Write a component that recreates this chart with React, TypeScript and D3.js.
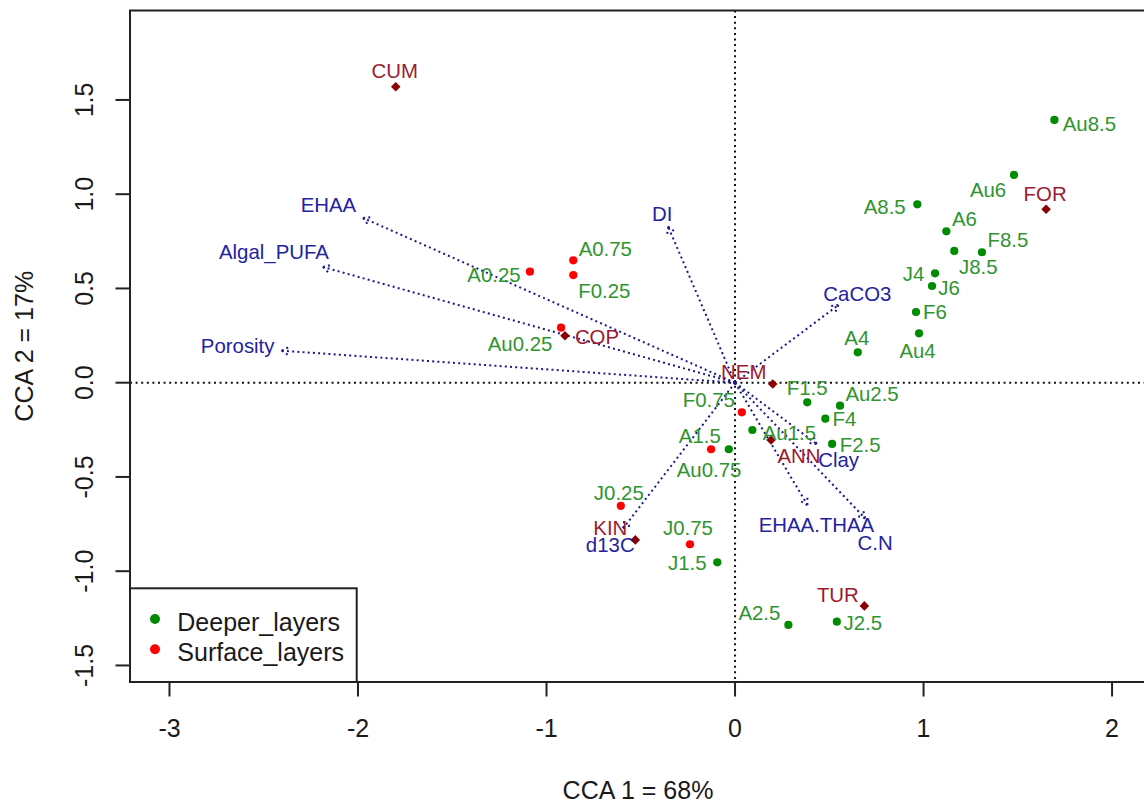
import React from "react";
import * as d3 from "d3";

// ---- CCA scores -------------------------------------------------------------
const speciesNames = ["CUM", "FOR", "COP", "NEM", "ANN", "KIN", "TUR"];
const speciesCCA1 = [-1.8, 1.65, -0.902, 0.2, 0.191, -0.529, 0.686];
const speciesCCA2 = [1.57, 0.92, 0.249, -0.007, -0.304, -0.834, -1.184];

const deeperSites = [
  "Au8.5", "Au6", "A8.5", "A6", "J8.5", "F8.5", "J4", "J6", "F6", "Au4",
  "A4", "F1.5", "Au2.5", "F4", "F2.5", "Au1.5", "A1.5", "J1.5", "A2.5", "J2.5",
];
const deeperCCA1 = [
  1.694, 1.48, 0.967, 1.121, 1.163, 1.31, 1.061, 1.045, 0.96, 0.976,
  0.651, 0.383, 0.557, 0.479, 0.515, 0.092, -0.033, -0.094, 0.283, 0.54,
];
const deeperCCA2 = [
  1.394, 1.102, 0.946, 0.803, 0.699, 0.692, 0.58, 0.513, 0.375, 0.262,
  0.161, -0.104, -0.122, -0.191, -0.325, -0.251, -0.353, -0.953, -1.285, -1.268,
];

const surfaceSites = ["A0.25", "A0.75", "F0.25", "Au0.25", "F0.75", "Au0.75", "J0.25", "J0.75"];
const surfaceCCA1 = [-1.088, -0.858, -0.858, -0.923, 0.036, -0.127, -0.606, -0.239];
const surfaceCCA2 = [0.589, 0.649, 0.571, 0.292, -0.157, -0.353, -0.653, -0.857];

const envVars = ["EHAA", "Algal_PUFA", "Porosity", "DI", "CaCO3", "Clay", "EHAA.THAA", "C.N", "d13C"];
const envCCA1 = [-1.973, -2.186, -2.405, -0.355, 0.548, 0.433, 0.384, 0.69, -0.593];
const envCCA2 = [0.874, 0.614, 0.17, 0.828, 0.412, -0.325, -0.649, -0.719, -0.772];

const xTicks = [-3, -2, -1, 0, 1, 2];
const xTickLabels = ["-3", "-2", "-1", "0", "1", "2"];
const yTicks = [-1.5, -1, -0.5, 0, 0.5, 1, 1.5];
const yTickLabels = ["-1.5", "-1.0", "-0.5", "0.0", "0.5", "1.0", "1.5"];

const legendLabels = ["Deeper_layers", "Surface_layers"];
const xTitle = "CCA 1 = 68%";
const yTitle = "CCA 2 = 17%";

// ---- label placement (pixel nudges from each mark) -------------------------
const nudge: Record<string, [number, number]> = {
  CUM: [-1, -15.5], FOR: [-1, -15], COP: [32, 1], NEM: [-29, -12],
  ANN: [28, 15.5], KIN: [-25, -12], TUR: [-26.5, -11],
  "Au8.5": [35, 4], Au6: [-26, 15.5], "A8.5": [-32.6, 3], A6: [18, -12],
  "J8.5": [24, 16.5], "F8.5": [26, -12], J4: [-21.5, 1], J6: [17, 2.5],
  F6: [19, 0], Au4: [-1.5, 18], A4: [-1, -14], "F1.5": [0, -14],
  "Au2.5": [32, -12], F4: [19, 0], "F2.5": [28, 1], "Au1.5": [37, 3],
  "A1.5": [-29, -13.6], "J1.5": [-30, 1], "A2.5": [-29, -12], "J2.5": [26, 1],
  "A0.25": [-36, 3], "A0.75": [32, -11], "F0.25": [31, 16], "Au0.25": [-41, 16],
  "F0.75": [-33, -12], "Au0.75": [-2, 21], "J0.25": [-2, -13], "J0.75": [-2, -16],
  EHAA: [-34.7, -13], Algal_PUFA: [-49, -14.5], Porosity: [-44, -4.7],
  DI: [-6, -12.4], CaCO3: [19, -11], Clay: [22, 16.5], "EHAA.THAA": [9, 20],
  "C.N": [10, 25], d13C: [-13, 17],
};

const W = 1144;
const H = 804;
const box = { left: 130, right: 1146, top: 10.5, bottom: 682 };
const FONT = "'Liberation Sans', Arial, sans-serif";

const greenDot = "#008b00";
const greenText = "#2f942f";
const redDot = "#ff0000";
const speciesColor = "#8b0000";
const speciesText = "#9b1b30";
const envColor = "#1a1a88";
const envText = "#23239e";

export default function App() {
  const x = d3.scaleLinear().domain([-3.2095, 2.18]).range([box.left, box.right]);
  const y = d3.scaleLinear().domain([-1.5878, 1.9745]).range([box.bottom, box.top]);
  const x0 = x(0);
  const y0 = y(0);

  const label = (name: string, px: number, py: number, fill: string, key: string) => {
    const [dx, dy] = nudge[name] || [0, 0];
    return (
      <text
        key={key}
        x={px + dx}
        y={py + dy}
        fill={fill}
        fontSize={20.4}
        textAnchor="middle"
        dominantBaseline="central"
      >
        {name}
      </text>
    );
  };

  const headLen = 10;
  const headAng = (30 * Math.PI) / 180;

  return (
    <svg
      width={W}
      height={H}
      style={{ position: "absolute", left: 0, top: 0, background: "#fff" }}
      fontFamily={FONT}
    >
      <defs>
        <clipPath id="plotClip">
          <rect x={box.left} y={box.top} width={box.right - box.left} height={box.bottom - box.top} />
        </clipPath>
      </defs>

      <g clipPath="url(#plotClip)">
        {/* zero reference lines */}
        <line x1={box.left} x2={box.right} y1={y0} y2={y0} stroke="#111" strokeWidth={2} strokeDasharray="2 3.6" />
        <line x1={x0} x2={x0} y1={box.top} y2={box.bottom} stroke="#111" strokeWidth={2} strokeDasharray="2 3.6" />

        {/* environmental vectors */}
        {envVars.map((v, i) => {
          const tx = x(envCCA1[i]);
          const ty = y(envCCA2[i]);
          const a = Math.atan2(ty - y0, tx - x0);
          const h1x = tx - headLen * Math.cos(a - headAng);
          const h1y = ty - headLen * Math.sin(a - headAng);
          const h2x = tx - headLen * Math.cos(a + headAng);
          const h2y = ty - headLen * Math.sin(a + headAng);
          return (
            <g key={"env" + v} stroke={envColor} strokeWidth={2} strokeDasharray="2 3.2" fill="none">
              <line x1={x0} y1={y0} x2={tx} y2={ty} />
              <line x1={tx} y1={ty} x2={h1x} y2={h1y} />
              <line x1={tx} y1={ty} x2={h2x} y2={h2y} />
            </g>
          );
        })}

        {/* deeper sites */}
        {deeperSites.map((s, i) => (
          <circle key={"dp" + s} cx={x(deeperCCA1[i])} cy={y(deeperCCA2[i])} r={4.1} fill={greenDot} />
        ))}
        {/* surface sites */}
        {surfaceSites.map((s, i) => (
          <circle key={"sp" + s} cx={x(surfaceCCA1[i])} cy={y(surfaceCCA2[i])} r={4.1} fill={redDot} />
        ))}
        {/* species */}
        {speciesNames.map((s, i) => {
          const px = x(speciesCCA1[i]);
          const py = y(speciesCCA2[i]);
          const r = 4.8;
          return (
            <path
              key={"spp" + s}
              d={`M${px},${py - r}L${px + r},${py}L${px},${py + r}L${px - r},${py}Z`}
              fill={speciesColor}
            />
          );
        })}

        {/* labels */}
        {deeperSites.map((s, i) => label(s, x(deeperCCA1[i]), y(deeperCCA2[i]), greenText, "dl" + s))}
        {surfaceSites.map((s, i) => label(s, x(surfaceCCA1[i]), y(surfaceCCA2[i]), greenText, "sl" + s))}
        {speciesNames.map((s, i) => label(s, x(speciesCCA1[i]), y(speciesCCA2[i]), speciesText, "spl" + s))}
        {envVars.map((v, i) => label(v, x(envCCA1[i]), y(envCCA2[i]), envText, "el" + v))}
      </g>

      {/* plot frame */}
      <rect
        x={box.left}
        y={box.top}
        width={box.right - box.left}
        height={box.bottom - box.top}
        fill="none"
        stroke="#222"
        strokeWidth={2}
      />

      {/* x axis */}
      {xTicks.map((t, i) => (
        <g key={"xt" + t}>
          <line x1={x(t)} x2={x(t)} y1={box.bottom} y2={box.bottom + 14.5} stroke="#222" strokeWidth={2} />
          <text x={x(t)} y={737} fontSize={25} textAnchor="middle" fill="#1a1a1a">
            {xTickLabels[i]}
          </text>
        </g>
      ))}
      {/* y axis */}
      {yTicks.map((t, i) => (
        <g key={"yt" + t}>
          <line x1={box.left} x2={box.left - 14.5} y1={y(t)} y2={y(t)} stroke="#222" strokeWidth={2} />
          <text
            transform={`translate(93,${y(t)}) rotate(-90)`}
            fontSize={25}
            textAnchor="middle"
            fill="#1a1a1a"
          >
            {yTickLabels[i]}
          </text>
        </g>
      ))}

      <text x={(box.left + box.right) / 2} y={799} fontSize={25} textAnchor="middle" fill="#1a1a1a">
        {xTitle}
      </text>
      <text
        transform={`translate(33,${(box.top + box.bottom) / 2}) rotate(-90)`}
        fontSize={25}
        textAnchor="middle"
        fill="#1a1a1a"
      >
        {yTitle}
      </text>

      {/* legend */}
      <rect x={box.left} y={588.3} width={226.7} height={box.bottom - 588.3} fill="#fff" stroke="#222" strokeWidth={2} />
      {legendLabels.map((l, i) => (
        <g key={"lg" + l}>
          <circle cx={155} cy={619 + i * 30.3} r={5} fill={i === 0 ? greenDot : redDot} />
          <text x={177.3} y={630.5 + i * 30.3} fontSize={25} fill="#1a1a1a">
            {l}
          </text>
        </g>
      ))}
    </svg>
  );
}
